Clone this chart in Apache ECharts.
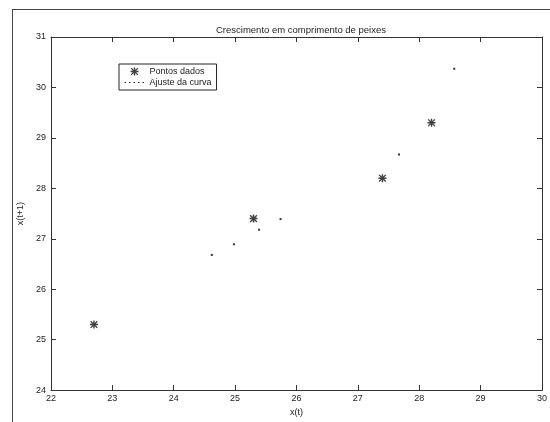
<!DOCTYPE html>
<html>
<head>
<meta charset="utf-8">
<script src="https://cdn.jsdelivr.net/npm/echarts@6/dist/echarts.min.js"></script>
<style>html,body{margin:0;padding:0;background:#fff}#c{width:550px;height:422px}</style>
</head>
<body>
<div id="c"></div>
<script>
// Data
const lengthT = [22.7, 25.3, 27.4, 28.2];
const lengthT1 = [25.3, 27.4, 28.2, 29.3];
const fitX = [24.62, 24.98, 25.39, 25.74, 27.67, 28.57];
const fitY = [26.68, 26.89, 27.18, 27.39, 28.67, 30.37];
const xTicks = [22, 23, 24, 25, 26, 27, 28, 29, 30];
const yTicks = [24, 25, 26, 27, 28, 29, 30, 31];
const titleText = 'Crescimento em comprimento de peixes';
const seriesNames = ['Pontos dados', 'Ajuste da curva'];

const FONT = '"Liberation Sans", Arial, sans-serif';
const AX = '#333';
const asterisk = 'path://M0 4.1H10V5.9H0Z M4.1 0H5.9V10H4.1Z M1.4 0.2L9.8 8.6L8.6 9.8L0.2 1.4Z M8.6 0.2L9.8 1.4L1.4 9.8L0.2 8.6Z';

const chart = echarts.init(document.getElementById('c'), null, {renderer: 'canvas'});
const xMin = xTicks[0], xMax = xTicks[xTicks.length - 1];
const yMin = yTicks[0], yMax = yTicks[yTicks.length - 1];

function axisCommon(show) {
  return {
    axisLine: {show: true, lineStyle: {color: AX, width: 1}},
    axisTick: {show: true, inside: true, length: 5, lineStyle: {color: AX}},
    splitLine: {show: false},
    axisLabel: {show: show, color: '#222', fontSize: 9, fontFamily: FONT}
  };
}

chart.setOption({
  animation: false,
  backgroundColor: '#fff',
  title: {
    text: titleText, left: 296, top: 20, textAlign: 'center',
    textStyle: {fontSize: 9.5, fontWeight: 'normal', color: '#222', fontFamily: FONT}
  },
  grid: {left: 51, right: 8, top: 37, bottom: 30},
  legend: {
    left: 119, top: 64, orient: 'vertical',
    borderColor: '#222', borderWidth: 1, padding: [3, 5, 3, 5],
    itemGap: 2, itemWidth: 20, itemHeight: 8,
    textStyle: {fontSize: 9, color: '#222', fontFamily: FONT},
    data: [
      {name: seriesNames[0]},
      {name: seriesNames[1], itemStyle: {opacity: 0}, lineStyle: {opacity: 1, type: [1.5, 3], color: '#222', width: 1}}
    ]
  },
  xAxis: [
    Object.assign({type: 'value', min: xMin, max: xMax, interval: 1, position: 'bottom',
      name: 'x(t)', nameLocation: 'middle', nameGap: 15,
      nameTextStyle: {fontSize: 9, color: '#222', fontFamily: FONT}}, axisCommon(true),
      {axisLabel: {show: true, color: '#222', fontSize: 9, fontFamily: FONT, margin: 4}}),
    Object.assign({type: 'value', min: xMin, max: xMax, interval: 1, position: 'top'}, axisCommon(false))
  ],
  yAxis: [
    Object.assign({type: 'value', min: yMin, max: yMax, interval: 1, position: 'left',
      name: 'x(t+1)', nameLocation: 'middle', nameGap: 22, nameRotate: 90,
      nameTextStyle: {fontSize: 9, color: '#222', fontFamily: FONT}}, axisCommon(true),
      {axisLabel: {show: true, color: '#222', fontSize: 9, fontFamily: FONT, margin: 5}}),
    Object.assign({type: 'value', min: yMin, max: yMax, interval: 1, position: 'right'}, axisCommon(false))
  ],
  graphic: [
    {type: 'line', shape: {x1: 12, y1: 9.5, x2: 550, y2: 9.5}, style: {stroke: '#444', lineWidth: 1}, silent: true},
    {type: 'line', shape: {x1: 12.5, y1: 9, x2: 12.5, y2: 422}, style: {stroke: '#444', lineWidth: 1}, silent: true}
  ],
  series: [
    {
      name: seriesNames[0], type: 'scatter', xAxisIndex: 0, yAxisIndex: 0,
      symbol: asterisk, symbolSize: 8,
      itemStyle: {color: '#111'},
      data: lengthT.map((v, i) => [v, lengthT1[i]])
    },
    {
      name: seriesNames[1], type: 'line', xAxisIndex: 0, yAxisIndex: 0,
      showSymbol: true, symbol: 'rect', symbolSize: 2,
      itemStyle: {color: '#333'},
      lineStyle: {opacity: 0},
      data: fitX.map((v, i) => [v, fitY[i]])
    }
  ]
});
</script>
</body>
</html>
